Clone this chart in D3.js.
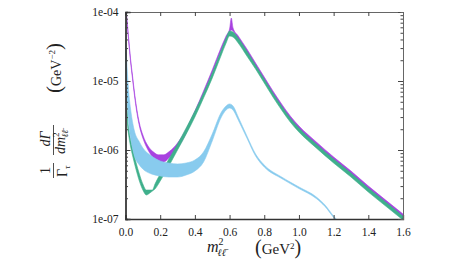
<!DOCTYPE html>
<html>
<head>
<meta charset="utf-8">
<script src="https://cdn.jsdelivr.net/npm/d3@7"></script>
<style>
  body { margin: 0; background: #fff; }
  text { font-family: "Liberation Serif", "DejaVu Serif", serif; fill: #222; }
</style>
</head>
<body>
<svg id="chart" width="473" height="266"></svg>
<script>
// purple band
var purpleX = [0, 0.01, 0.02, 0.03, 0.04, 0.05, 0.066, 0.08, 0.1, 0.13, 0.16, 0.19, 0.22, 0.25, 0.28, 0.3, 0.35, 0.4, 0.45, 0.5, 0.55, 0.58, 0.6, 0.61, 0.62, 0.65, 0.7, 0.75, 0.8, 0.85, 0.9, 0.95, 1.0, 1.1, 1.2, 1.3, 1.4, 1.5, 1.6];
var purpleHi = [1.3e-4, 7.2e-5, 3.7e-5, 2.0e-5, 1.22e-5, 7.4e-6, 3.8e-6, 2.46e-6, 1.65e-6, 1.14e-6, 9.4e-7, 8.5e-7, 8.5e-7, 9.4e-7, 1.1e-6, 1.26e-6, 2.02e-6, 3.67e-6, 7.16e-6, 1.44e-5, 3.01e-5, 4.49e-5, 5.67e-5, 8.18e-5, 5.86e-5, 4.49e-5, 2.91e-5, 1.82e-5, 1.14e-5, 7.16e-6, 4.64e-6, 3.11e-6, 2.23e-6, 1.31e-6, 7.91e-7, 4.96e-7, 3.01e-7, 1.88e-7, 1.18e-7];
var purpleLo = [1.18e-4, 6.48e-5, 3.32e-5, 1.82e-5, 1.1e-5, 6.7e-6, 3.44e-6, 2.23e-6, 1.49e-6, 1.0e-6, 7.66e-7, 6.7e-7, 6.7e-7, 7.66e-7, 9.36e-7, 1.07e-6, 1.76e-6, 3.32e-6, 6.48e-6, 1.31e-5, 2.72e-5, 4.06e-5, 5.13e-5, 5.48e-5, 5.3e-5, 4.06e-5, 2.63e-5, 1.65e-5, 1.03e-5, 6.48e-6, 4.2e-6, 2.81e-6, 2.02e-6, 1.18e-6, 7.16e-7, 4.49e-7, 2.72e-7, 1.7e-7, 1.07e-7];

// green band
var greenX = [0, 0.01, 0.02, 0.03, 0.04, 0.06, 0.08, 0.1, 0.12, 0.14, 0.155, 0.17, 0.2, 0.25, 0.3, 0.35, 0.4, 0.45, 0.5, 0.55, 0.58, 0.6, 0.62, 0.65, 0.7, 0.75, 0.8, 0.85, 0.9, 0.95, 1.0, 1.1, 1.2, 1.3, 1.4, 1.5, 1.6];
var greenHi = [3.93e-5, 3.55e-6, 1.95e-6, 1.4e-6, 1.07e-6, 6.7e-7, 4.49e-7, 3.21e-7, 2.63e-7, 2.63e-7, 2.63e-7, 3.21e-7, 4.49e-7, 7.4e-7, 1.22e-6, 2.09e-6, 3.67e-6, 6.7e-6, 1.31e-5, 2.72e-5, 4.2e-5, 5.3e-5, 5.13e-5, 4.2e-5, 2.72e-5, 1.7e-5, 1.07e-5, 6.7e-6, 4.34e-6, 2.91e-6, 2.09e-6, 1.22e-6, 7.4e-7, 4.64e-7, 2.81e-7, 1.76e-7, 1.1e-7];
var greenLo = [2.81e-5, 2.72e-6, 1.54e-6, 1.1e-6, 8.46e-7, 5.3e-7, 3.55e-7, 2.63e-7, 2.23e-7, 2.38e-7, 2.54e-7, 2.72e-7, 3.55e-7, 5.86e-7, 1.0e-6, 1.7e-6, 3.01e-6, 5.67e-6, 1.1e-5, 2.3e-5, 3.55e-5, 4.49e-5, 4.34e-5, 3.55e-5, 2.3e-5, 1.49e-5, 9.36e-6, 5.86e-6, 3.8e-6, 2.54e-6, 1.82e-6, 1.07e-6, 6.48e-7, 4.06e-7, 2.46e-7, 1.54e-7, 9.67e-8];

// light blue band
var blueX = [0, 0.005, 0.01, 0.02, 0.03, 0.05, 0.08, 0.1, 0.15, 0.2, 0.25, 0.3, 0.35, 0.4, 0.45, 0.5, 0.55, 0.58, 0.6, 0.62, 0.65, 0.7, 0.75, 0.8, 0.9, 1.0, 1.1, 1.15, 1.2, 1.25];
var blueHi = [3.32e-5, 2.38e-5, 1.44e-5, 6.27e-6, 3.8e-6, 1.95e-6, 1.31e-6, 1.07e-6, 8.18e-7, 6.93e-7, 6.48e-7, 6.27e-7, 6.48e-7, 7.16e-7, 9.36e-7, 1.7e-6, 3.44e-6, 4.34e-6, 4.64e-6, 4.34e-6, 3.01e-6, 1.6e-6, 8.75e-7, 6.06e-7, 4.06e-7, 2.91e-7, 2.09e-7, 1.6e-7, 1.1e-7, 7.91e-8];
var blueLo = [1.44e-5, 1.03e-5, 5.3e-6, 2.3e-6, 1.49e-6, 8.46e-7, 6.06e-7, 5.3e-7, 4.49e-7, 4.2e-7, 4.06e-7, 4.06e-7, 4.34e-7, 4.96e-7, 6.7e-7, 1.35e-6, 2.91e-6, 3.8e-6, 4.06e-6, 3.8e-6, 2.72e-6, 1.49e-6, 8.18e-7, 5.67e-7, 3.86e-7, 2.76e-7, 1.98e-7, 1.52e-7, 1.05e-7, 7.5e-8];

var xTicks = [0, 0.2, 0.4, 0.6, 0.8, 1.0, 1.2, 1.4, 1.6];
var yTicks = [1e-7, 1e-6, 1e-5, 1e-4];
var yTickLabels = ["1e-07", "1e-06", "1e-05", "1e-04"];

var plotLeft = 125.5, plotRight = 403, plotTop = 12, plotBottom = 219;

var svg = d3.select("#chart");

var x = d3.scaleLinear().domain([0, 1.6]).range([plotLeft, plotRight]);
var y = d3.scaleLog().domain([1e-7, 1e-4]).range([plotBottom, plotTop]);

svg.append("defs").append("clipPath").attr("id", "plotclip")
  .append("rect")
    .attr("x", plotLeft).attr("y", plotTop)
    .attr("width", plotRight - plotLeft).attr("height", plotBottom - plotTop);

function band(xs, lo, hi) {
  return xs.map(function(v, i) { return {x: v, lo: lo[i], hi: hi[i]}; });
}

var area = d3.area()
  .curve(d3.curveMonotoneX)
  .x(function(d) { return x(d.x); })
  .y0(function(d) { return y(d.lo); })
  .y1(function(d) { return y(d.hi); });

var bands = [
  {data: band(purpleX, purpleLo, purpleHi), color: "#a842e0"},
  {data: band(greenX, greenLo, greenHi), color: "#3fb08c"},
  {data: band(blueX, blueLo, blueHi), color: "#88cbee"}
];

var plot = svg.append("g").attr("clip-path", "url(#plotclip)");

plot.selectAll("path.band")
  .data(bands)
  .enter().append("path")
    .attr("class", "band")
    .attr("d", function(d) { return area(d.data); })
    .attr("fill", function(d) { return d.color; })
    .attr("stroke", function(d) { return d.color; })
    .attr("stroke-width", 0.6);

// frame and ticks
svg.append("g")
  .attr("class", "dark")
  .attr("transform", "translate(0," + plotBottom + ")")
  .call(d3.axisBottom(x).tickValues(xTicks).tickSize(-4).tickPadding(9)
    .tickFormat(d3.format(".1f")));

svg.append("g")
  .attr("class", "light")
  .attr("transform", "translate(0," + plotTop + ")")
  .call(d3.axisTop(x).tickValues(xTicks).tickSize(-4).tickFormat(""));

var minor = [];
for (var e = -7; e < -4; e++) {
  for (var k = 2; k <= 9; k++) minor.push(k * Math.pow(10, e));
}

svg.append("g")
  .attr("class", "dark")
  .attr("transform", "translate(" + plotLeft + ",0)")
  .call(d3.axisLeft(y).tickValues(yTicks).tickSize(-5).tickPadding(7)
    .tickFormat(function(d, i) { return yTickLabels[i]; }));

svg.append("g")
  .attr("class", "dark")
  .attr("transform", "translate(" + plotLeft + ",0)")
  .call(d3.axisLeft(y).tickValues(minor).tickSize(-2.5).tickFormat(""));

svg.append("g")
  .attr("class", "light")
  .attr("transform", "translate(" + plotRight + ",0)")
  .call(d3.axisRight(y).tickValues(yTicks).tickSize(-5).tickFormat(""));

svg.append("g")
  .attr("class", "light")
  .attr("transform", "translate(" + plotRight + ",0)")
  .call(d3.axisRight(y).tickValues(minor).tickSize(-2.5).tickFormat(""));

svg.selectAll(".dark .domain").attr("stroke", "#333").attr("stroke-width", 1.3);
svg.selectAll(".light .domain").attr("stroke", "#666").attr("stroke-width", 1);
svg.selectAll(".tick line").attr("stroke", "#444");
svg.selectAll(".tick text")
  .style("font-family", "'Liberation Serif', serif")
  .style("font-size", "11.5px")
  .attr("fill", "#222");

// x axis label
var xl = svg.append("text").attr("x", 207).attr("y", 252).style("font-size", "16px");
xl.append("tspan").style("font-style", "italic").text("m");
xl.append("tspan").attr("dy", -7).style("font-size", "10px").text("2");
xl.append("tspan").attr("dx", -6).attr("dy", 11).style("font-size", "10px").style("font-style", "italic").text("ℓℓ̄");

var xu = svg.append("text").attr("x", 255).attr("y", 254).style("font-size", "15px");
xu.append("tspan").style("font-size", "20px").text("(");
xu.append("tspan").text("GeV");
xu.append("tspan").attr("dy", -5).style("font-size", "9px").text("2");
xu.append("tspan").attr("dy", 5).style("font-size", "20px").text(")");

// y axis label, rotated
var yl = svg.append("g").attr("transform", "rotate(-90)");

yl.append("text").attr("x", -170.5).attr("y", 50)
  .attr("text-anchor", "middle").style("font-size", "14px").text("1");
yl.append("line").attr("x1", -178).attr("x2", -163).attr("y1", 53.5).attr("y2", 53.5)
  .attr("stroke", "#222").attr("stroke-width", 0.8);
var gt = yl.append("text").attr("x", -177).attr("y", 67).style("font-size", "14px");
gt.append("tspan").text("Γ");
gt.append("tspan").attr("dy", 3).style("font-size", "9px").style("font-style", "italic").text("τ");

yl.append("text").attr("x", -139).attr("y", 50)
  .attr("text-anchor", "middle").style("font-size", "14px").style("font-style", "italic")
  .text("dΓ");
yl.append("line").attr("x1", -155).attr("x2", -125).attr("y1", 53.5).attr("y2", 53.5)
  .attr("stroke", "#222").attr("stroke-width", 0.8);
var dm = yl.append("text").attr("x", -154).attr("y", 65).style("font-size", "14px");
dm.append("tspan").style("font-style", "italic").text("dm");
dm.append("tspan").attr("dy", -6).style("font-size", "9px").text("2");
dm.append("tspan").attr("dx", -5).attr("dy", 9).style("font-size", "9px").style("font-style", "italic").text("ℓℓ̄");

var gu = yl.append("text").attr("x", -93).attr("y", 61).style("font-size", "14px");
gu.append("tspan").style("font-size", "21px").text("(");
gu.append("tspan").text("GeV");
gu.append("tspan").attr("dy", -6).style("font-size", "9px").text("−2");
gu.append("tspan").attr("dy", 6).style("font-size", "21px").text(")");
</script>
</body>
</html>
